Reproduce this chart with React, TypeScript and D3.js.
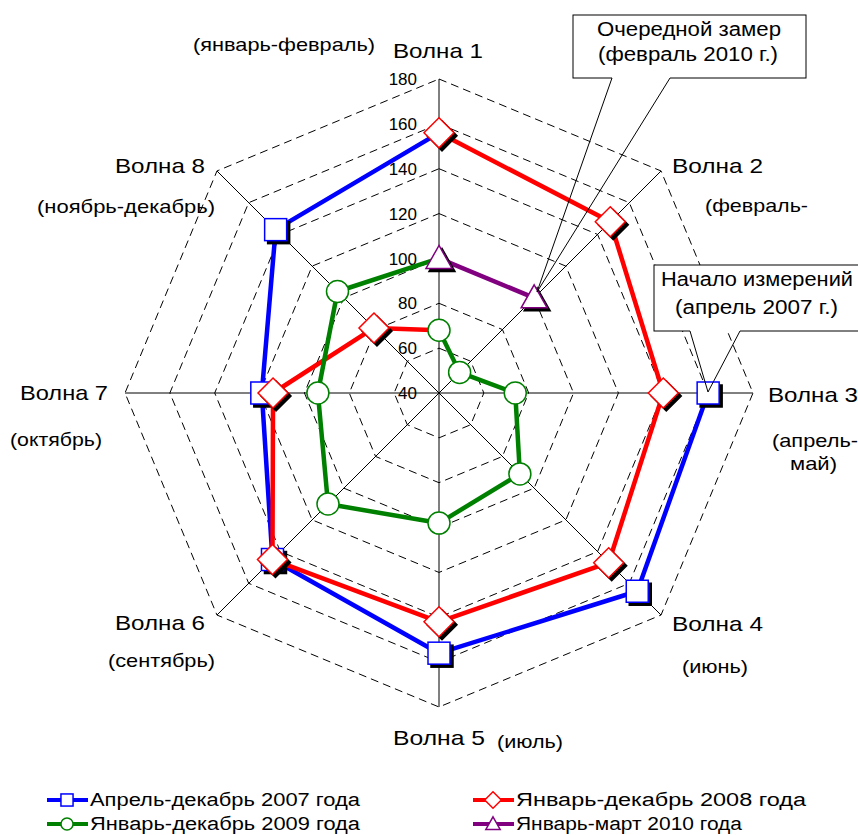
import React from 'react';
import * as d3 from 'd3';

// wave labels, clockwise from the top
const waveNames = ['Волна 1', 'Волна 2', 'Волна 3', 'Волна 4', 'Волна 5', 'Волна 6', 'Волна 7', 'Волна 8'];
const periodNames = ['(январь-февраль)', '(февраль-', '(апрель-', '(июнь)', '(июль)', '(сентябрь)', '(октябрь)', '(ноябрь-декабрь)'];
const radialTicks = [40, 60, 80, 100, 120, 140, 160, 180];

// values per wave (null = no measurement in that period)
const values2007 = [null, null, 160, 165, 156, 145, 119, 143];
const values2008 = [156, 148, 140, 147, 142, 145, 114, 81];
const values2009 = [68, 53, 74, 91, 98, 110, 94, 104];
const values2010 = [100, 100, null, null, null, null, null, null];

const seriesNames = ['Апрель-декабрь 2007 года', 'Январь-декабрь 2008 года', 'Январь-декабрь 2009 года', 'Январь-март 2010 года'];
const seriesColors = ['#0000ff', '#ff0000', '#008000', '#800080'];
const seriesMarkers = ['square', 'diamond', 'circle', 'triangle'];

const W = 858, H = 835;
const cx = 439, cy = 393, R = 314;
const FONT = '"Liberation Sans", Arial, sans-serif';

const r = d3.scaleLinear().domain([40, 180]).range([0, R]);
const angle = d3.scaleLinear().domain([0, 8]).range([0, 2 * Math.PI]);

const pt = (i: number, v: number): [number, number] => {
  const a = angle(i);
  return [cx + r(v) * Math.sin(a), cy - r(v) * Math.cos(a)];
};

const Marker = ({ kind, x, y, color, s = 1 }: any) => {
  const sh = 3 * s;
  const shape = (dx: number, dy: number, fill: string, stroke: string, sw: number) => {
    if (kind === 'square') {
      const h = 11 * s;
      return <rect x={x - h + dx} y={y - h + dy} width={2 * h} height={2 * h} fill={fill} stroke={stroke} strokeWidth={sw} />;
    }
    if (kind === 'diamond') {
      const h = 15 * s;
      return <path d={`M${x + dx},${y - h + dy}L${x + h + dx},${y + dy}L${x + dx},${y + h + dy}L${x - h + dx},${y + dy}Z`} fill={fill} stroke={stroke} strokeWidth={sw} />;
    }
    if (kind === 'circle') {
      return <circle cx={x + dx} cy={y + dy} r={11 * s} fill={fill} stroke={stroke} strokeWidth={sw} />;
    }
    const w = 13 * s, t = 13 * s, b = 10 * s;
    return <path d={`M${x + dx},${y - t + dy}L${x + w + dx},${y + b + dy}L${x - w + dx},${y + b + dy}Z`} fill={fill} stroke={stroke} strokeWidth={sw} />;
  };
  return (
    <g>
      {s === 1 && kind !== 'circle' && shape(sh, sh, '#000', '#000', 1.5)}
      {shape(0, 0, '#fff', color, 1.5)}
    </g>
  );
};

// stretched text: the original lettering is a little wider than Arial
const T = ({ x, y, w, size, anchor = 'start', children, family }: any) => (
  <text x={x} y={y} fontSize={size} textAnchor={anchor} textLength={w} lengthAdjust="spacingAndGlyphs" fill="#000" fontFamily={family}>{children}</text>
);

export default function App() {
  const all = [values2007, values2008, values2009, values2010];
  const line = d3.line<[number, number]>();

  const series = all.map((vals, si) => {
    const pts: [number, number][] = [];
    const marks: [number, number][] = [];
    vals.forEach((v, i) => {
      if (v == null) return;
      const p = pt(i, v);
      pts.push(p);
      marks.push(p);
    });
    // chain into the first wave of the following period
    const next = all[si + 1];
    if (next && next[0] != null) pts.push(pt(8, next[0] as number));
    return { pts, marks, color: seriesColors[si], kind: seriesMarkers[si] };
  });

  const grid = radialTicks.slice(1).map(t => d3.range(8).map(i => pt(i, t)));

  // [x, y, width] for wave name and period text
  const waveLab = [
    [393, 58, 90], [672, 173, 91], [768, 402, 90], [672, 631, 91],
    [393, 745, 92], [115, 630, 90], [20, 400, 88], [115, 173, 90],
  ];
  const periodLab = [
    [193, 51, 182], [705, 212, 103], [772, 447, 86], [682, 673, 66],
    [497, 748, 66], [108, 667, 107], [10, 446, 92], [37, 213, 178],
  ];

  const legend = [
    { x: 47, y: 800, w: 270 }, { x: 473, y: 800, w: 290 }, { x: 47, y: 824, w: 270 }, { x: 473, y: 824, w: 226 },
  ];

  return (
    <svg width={W} height={H} style={{ position: 'absolute', left: 0, top: 0, background: '#fff' }} fontFamily={FONT}>
      {/* grid */}
      {grid.map((g, k) => (
        <path key={k} d={line(g) + 'Z'} fill="none" stroke="#000" strokeWidth={1} strokeDasharray="8,5" />
      ))}
      {d3.range(8).map(i => {
        const [x, y] = pt(i, 180);
        return <line key={i} x1={cx} y1={cy} x2={x} y2={y} stroke="#000" strokeWidth={1} />;
      })}
      {radialTicks.map(t => (
        <text key={t} x={417} y={pt(0, t)[1]} dy="0.36em" textAnchor="end" fontSize={17} fill="#000">{t}</text>
      ))}

      {/* wave labels */}
      {waveNames.map((n, i) => (
        <T key={n} x={waveLab[i][0]} y={waveLab[i][1]} w={waveLab[i][2]} size={21}>{n}</T>
      ))}
      {periodNames.map((n, i) => (
        <T key={n} x={periodLab[i][0]} y={periodLab[i][1]} w={periodLab[i][2]} size={19}>{n}</T>
      ))}
      <T x={790} y={470} w={47} size={19}>май)</T>

      {/* series */}
      {series.map((s, si) => (
        <g key={si}>
          <path d={line(s.pts) as string} fill="none" stroke={s.color} strokeWidth={4.5} strokeLinejoin="round" />
          {s.marks.map((m, k) => <Marker key={k} kind={s.kind} x={m[0]} y={m[1]} color={s.color} />)}
        </g>
      ))}

      {/* callouts */}
      <rect x={573} y={15} width={233} height={63} fill="#fff" stroke="#000" strokeWidth={1} />
      <line x1={612} y1={78} x2={670} y2={78} stroke="#fff" strokeWidth={2} />
      <polyline points="612,78 537,292 670,78" fill="none" stroke="#000" strokeWidth={1} />
      <T x={597} y={36} w={184} size={20}>Очередной замер</T>
      <T x={598} y={61} w={180} size={20}>(февраль 2010 г.)</T>

      <rect x={654} y={265} width={220} height={66} fill="#fff" stroke="#000" strokeWidth={1} />
      <line x1={690} y1={331} x2={740} y2={331} stroke="#fff" strokeWidth={2} />
      <polyline points="690,331 708,392 740,331" fill="none" stroke="#000" strokeWidth={1} />
      <T x={661} y={286} w={192} size={20}>Начало измерений</T>
      <T x={675} y={314} w={163} size={20}>(апрель 2007 г.)</T>

      {/* legend */}
      {legend.map((l, k) => (
        <g key={k}>
          <line x1={l.x} y1={l.y} x2={l.x + 41} y2={l.y} stroke={seriesColors[k]} strokeWidth={4} />
          <Marker kind={seriesMarkers[k]} x={l.x + 20} y={l.y} color={seriesColors[k]} s={0.55} />
          <T x={l.x + 43} y={l.y + 6} w={l.w} size={18} family='"Liberation Sans Narrow", "Liberation Sans", Arial'>{seriesNames[k]}</T>
        </g>
      ))}
    </svg>
  );
}
